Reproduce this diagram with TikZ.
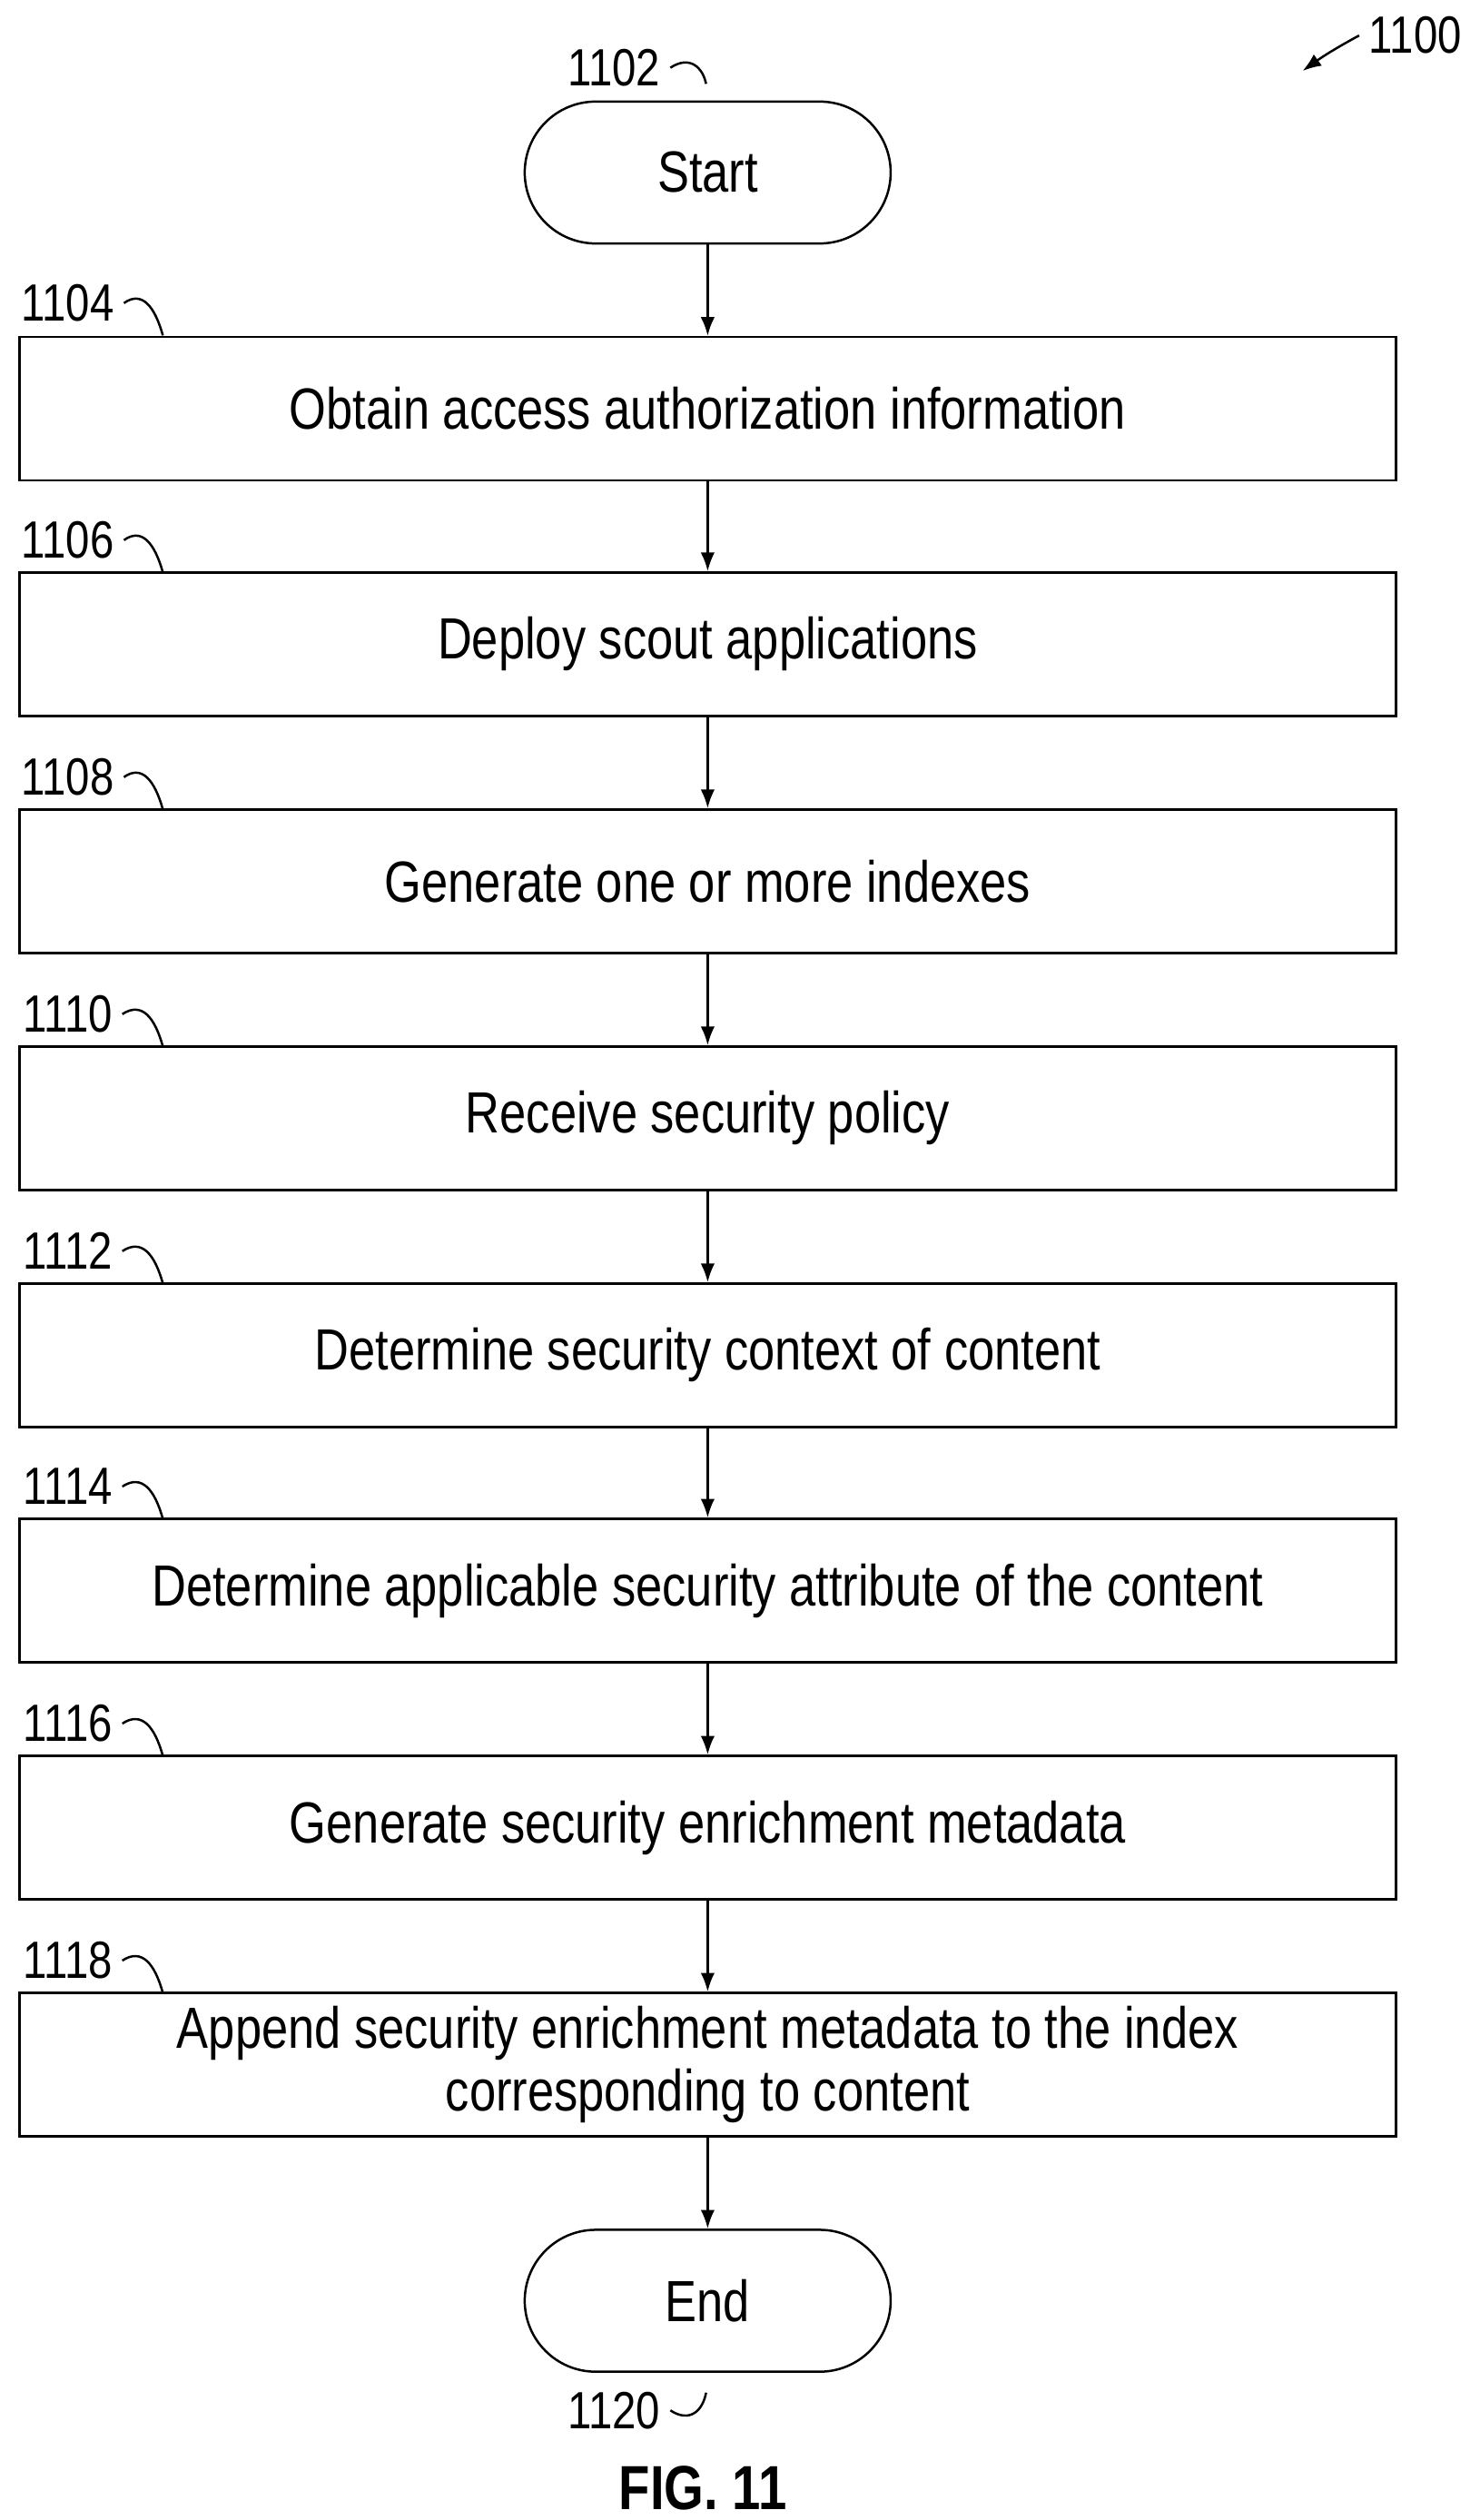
\documentclass[tikz,border=0pt]{standalone}
\usepackage{fontspec}
\setmainfont{Liberation Sans}[FakeStretch=0.82]
\usetikzlibrary{arrows.meta}
\usetikzlibrary{positioning}
\tikzset{>=Latex}
\tikzstyle{stepbox}=[draw,thick,minimum width=854*0.02cm,minimum height=89*0.02cm,align=center,font=\fontsize{20.5}{22}\selectfont]
\tikzstyle{term}=[draw,thick,rounded corners=44*0.02cm,minimum width=227*0.02cm,minimum height=88*0.02cm,font=\fontsize{20.5}{22}\selectfont]
\tikzstyle{ref}=[font=\fontsize{18.5}{20}\selectfont]
\begin{document}
\begin{tikzpicture}[x=0.02cm,y=-0.02cm]
    \useasboundingbox (0,0) rectangle (918,1563);

    \node[term] (start) at (439,107) {Start};
    \node[stepbox] (s1104) at (439,253.5) {Obtain access authorization information};
    \node[stepbox] (s1106) at (439,399.5) {Deploy scout applications};
    \node[stepbox] (s1108) at (439,546.5) {Generate one or more indexes};
    \node[stepbox] (s1110) at (439,693.5) {Receive security policy};
    \node[stepbox] (s1112) at (439,840.5) {Determine security context of content};
    \node[stepbox] (s1114) at (439,986.5) {Determine applicable security attribute of the content};
    \node[stepbox] (s1116) at (439,1133.5) {Generate security enrichment metadata};
    \node[stepbox] (s1118) at (439,1280.5) {Append security enrichment metadata to the index\\corresponding to content};
    \node[term] (end) at (439,1427) {End};

    \foreach \a/\b in {start/s1104,s1104/s1106,s1106/s1108,s1108/s1110,s1110/s1112,s1112/s1114,s1114/s1116,s1116/s1118,s1118/end}
        \draw[->,thick] (\a) -- (\b);

    % reference numerals
    \foreach \n/\y in {1104/188,1106/335,1108/482,1110/629,1112/776,1114/922,1116/1069,1118/1216} {
        \node[ref] (n\n) at (42,\y) {\n};
        \draw[thick] (n\n.east) .. controls (88,\y-8) and (96,\y+2) .. (101,\y+20);
    }
    \node[ref] (n1102) at (381,42) {1102};
    \draw[thick] (n1102.east) .. controls (428,34) and (436,42) .. (438,52);
    \node[ref] (n1120) at (381,1495) {1120};
    \draw[thick] (n1120.east) .. controls (428,1503) and (436,1495) .. (438,1484);
    \node[ref] (n1100) at (878,22) {1100};
    \draw[->,thick] (n1100.west) .. controls (832,28) and (822,34) .. (808,44);

    \node[font=\bfseries\fontsize{22}{24}\selectfont] (fig) at (436,1543) {FIG. 11};
\end{tikzpicture}
\end{document}
